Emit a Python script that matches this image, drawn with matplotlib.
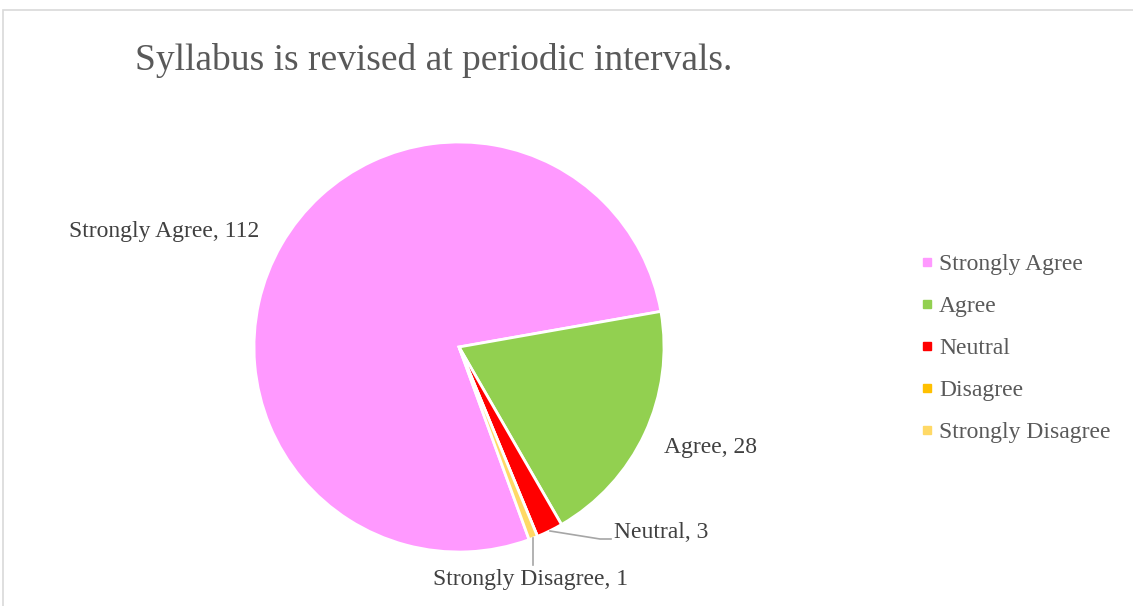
import matplotlib.pyplot as plt
from matplotlib.patches import Rectangle
from matplotlib.lines import Line2D

plt.rcParams['font.family'] = ['Liberation Serif', 'DejaVu Serif']

categories = ["Strongly Agree", "Agree", "Neutral", "Disagree", "Strongly Disagree"]
counts = [112, 28, 3, 0, 1]
colors = ["#FF99FF", "#92D050", "#FF0000", "#FFC000", "#FFD966"]

W, H = 1133, 606
fig = plt.figure(figsize=(W / 100, H / 100), dpi=100)

# light grey frame (cut off on the right and bottom, like the source)
fig.patches.append(Rectangle((3 / W, -0.1), 1.2, 1 - 10 / H + 0.1, transform=fig.transFigure,
                             fill=False, edgecolor="#D9D9D9", linewidth=1.2))

fig.text(135 / W, 1 - 61 / H, "Syllabus is revised at periodic intervals.",
         fontsize=27, color="#595959", va="center", ha="left")

cx, cy, r = 459, 347, 205
ax = fig.add_axes([(cx - r) / W, (H - cy - r) / H, 2 * r / W, 2 * r / H])
wedges, _ = ax.pie(counts, colors=colors, startangle=-70, counterclock=False,
                   wedgeprops=dict(edgecolor="white", linewidth=2))
ax.set_xlim(-1, 1)
ax.set_ylim(-1, 1)
ax.set_aspect("auto")
ax.axis("off")

tc = "#404040"
fs = 17
ax.text((164 - cx) / r, (cy - 231) / r, "Strongly Agree, 112", fontsize=fs, color=tc, ha="center", va="center", clip_on=False)
ax.text((711 - cx) / r, (cy - 447) / r, "Agree, 28", fontsize=fs, color=tc, ha="center", va="center", clip_on=False)
ax.text((614 - cx) / r, (cy - 532) / r, "Neutral, 3", fontsize=fs, color=tc, ha="left", va="center", clip_on=False)
ax.text((531 - cx) / r, (cy - 579) / r, "Strongly Disagree, 1", fontsize=fs, color=tc, ha="center", va="center", clip_on=False)

# leader lines
ax.add_line(Line2D([(550 - cx) / r, (600 - cx) / r, (611 - cx) / r],
                   [(cy - 531) / r, (cy - 539) / r, (cy - 539) / r],
                   color="#A6A6A6", linewidth=1.2, clip_on=False))
ax.add_line(Line2D([(533 - cx) / r, (533 - cx) / r],
                   [(cy - 538) / r, (cy - 565) / r],
                   color="#A6A6A6", linewidth=1.2, clip_on=False))

handles = [Line2D([], [], marker="s", linestyle="", markersize=6,
                  markerfacecolor=c, markeredgecolor=c) for c in colors]
leg = fig.legend(handles, categories, loc="upper left", bbox_to_anchor=(912 / W, 1 - 244 / H),
                 frameon=False, fontsize=fs, handlelength=0.45, handletextpad=0.3,
                 labelspacing=0.87, borderaxespad=0)
for t in leg.get_texts():
    t.set_color("#595959")

fig.savefig("out.png", dpi=100)
